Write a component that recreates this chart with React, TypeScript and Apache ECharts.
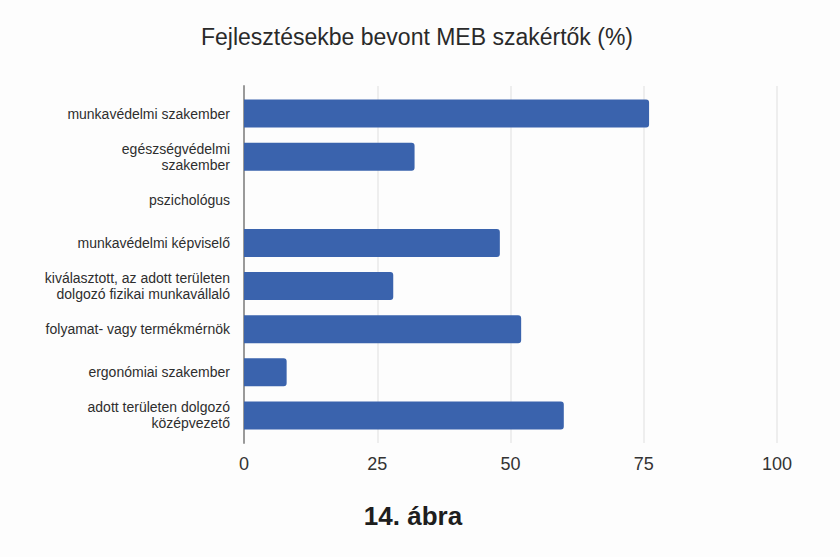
import React, { useEffect, useRef } from "react";
import * as echarts from "echarts";

const categories = [
  "munkavédelmi szakember",
  "egészségvédelmi\nszakember",
  "pszichológus",
  "munkavédelmi képviselő",
  "kiválasztott, az adott területen\ndolgozó fizikai munkavállaló",
  "folyamat- vagy termékmérnök",
  "ergonómiai szakember",
  "adott területen dolgozó\nközépvezető",
];
const values = [76, 32, 0, 48, 28, 52, 8, 60];
const xTicks = { min: 0, max: 100, interval: 25 };
const titleText = "Fejlesztésekbe bevont MEB szakértők (%)";
const captionText = "14. ábra";

export default function App() {
  const ref = useRef<HTMLDivElement>(null);
  useEffect(() => {
    if (!ref.current) return;
    const chart = echarts.init(ref.current, null, { renderer: "svg" });
    const font = "'Liberation Sans', Arial, sans-serif";
    chart.setOption({
      animation: false,
      backgroundColor: "#fdfdfd",
      title: [
        {
          text: titleText,
          left: 412,
          top: 20,
          textAlign: "center",
          textStyle: { fontFamily: font, fontSize: 23, fontWeight: "normal", color: "#2a2a2a" },
        },
        {
          text: captionText,
          left: 408,
          top: 498,
          textAlign: "center",
          textStyle: { fontFamily: font, fontSize: 26, fontWeight: "bold", color: "#1e1e1e" },
        },
      ],
      grid: [
        { left: 244, right: 63, top: 92, bottom: 120 },
        { left: 244, right: 63, top: 86, bottom: 114 },
      ],
      xAxis: [
        { type: "value", gridIndex: 0, min: xTicks.min, max: xTicks.max, interval: xTicks.interval, show: false },
        {
          type: "value",
          gridIndex: 1,
          min: xTicks.min,
          max: xTicks.max,
          interval: xTicks.interval,
          axisLine: { show: false },
          axisTick: { show: false },
          axisLabel: { margin: 12, fontFamily: font, fontSize: 18, color: "#333" },
          splitLine: { show: true, lineStyle: { color: "#e8e8e8", width: 1.5 } },
        },
      ],
      yAxis: [
        {
          type: "category",
          gridIndex: 0,
          data: categories,
          inverse: true,
          axisLine: { show: false },
          axisTick: { show: false },
          axisLabel: {
            margin: 14,
            fontFamily: font,
            fontSize: 14,
            lineHeight: 16,
            color: "#2e2e2e",
            align: "right",
          },
        },
        {
          type: "value",
          gridIndex: 1,
          min: 0,
          max: 1,
          axisLine: { show: true, onZero: false, lineStyle: { color: "#9a9a9a", width: 2 } },
          axisTick: { show: false },
          axisLabel: { show: false },
          splitLine: { show: false },
        },
      ],
      series: [
        {
          type: "bar",
          xAxisIndex: 0,
          yAxisIndex: 0,
          data: values,
          barWidth: 28,
          itemStyle: { color: "#3a63ad", borderRadius: [0, 3, 3, 0] },
        },
      ],
    });
    return () => chart.dispose();
  }, []);
  return (
    <div
      ref={ref}
      style={{ position: "fixed", left: 0, top: 0, width: 840, height: 557 }}
    />
  );
}
